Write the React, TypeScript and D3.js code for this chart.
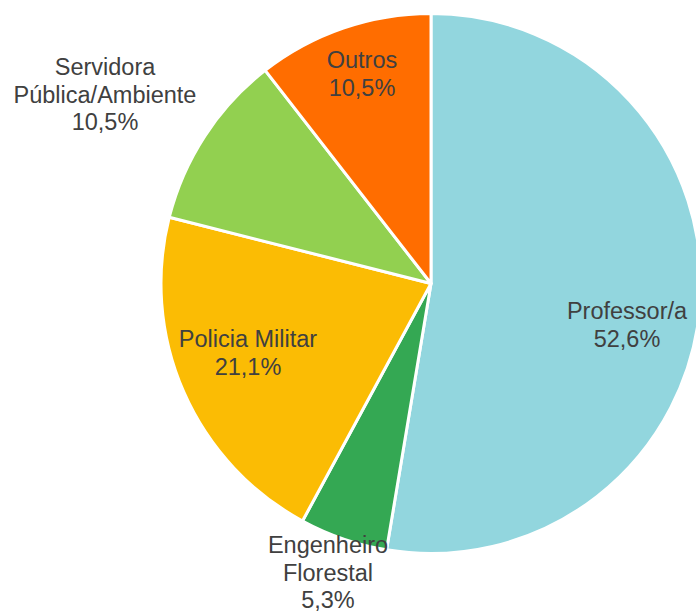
import React from "react";
import * as d3 from "d3";

const categories = ["Professor/a", "Engenheiro Florestal", "Policia Militar", "Servidora Pública/Ambiente", "Outros"];
const values = [10, 1, 4, 2, 2];
const percentLabels = ["52,6%", "5,3%", "21,1%", "10,5%", "10,5%"];
const labelLines = [["Professor/a"], ["Engenheiro", "Florestal"], ["Policia Militar"], ["Servidora", "Pública/Ambiente"], ["Outros"]];
const colors = ["#92D6DE", "#34A853", "#FBBC04", "#92D050", "#FF6D00"];

// label layout (centre x, first baseline y)
const labelPos = [
  [627, 319],
  [328, 553],
  [248, 347],
  [105, 75],
  [362, 68],
];

const W = 696, H = 612;
const cx = 431, cy = 283.5, R = 270;

export default function App() {
  const pie = d3.pie<number>().sort(null).value((d) => d)(values);
  const arc = d3.arc<d3.PieArcDatum<number>>().innerRadius(0).outerRadius(R);
  const lh = 27.5;
  return (
    <svg width={W} height={H} style={{ position: "absolute", left: 0, top: 0 }}>
      <g transform={`translate(${cx},${cy})`}>
        {pie.map((p, i) => (
          <path key={i} d={arc(p) || ""} fill={colors[i]} stroke="#fff" strokeWidth={3} strokeLinejoin="round" />
        ))}
      </g>
      {categories.map((c, i) => {
        const lines = [...labelLines[i], percentLabels[i]];
        const [x, y] = labelPos[i];
        return (
          <text key={c} x={x} y={y} textAnchor="middle" fontFamily="'Liberation Sans', Arial, sans-serif" fontSize={23.5} fill="#404040">
            {lines.map((l, j) => (
              <tspan key={j} x={x} y={y + j * lh}>{l}</tspan>
            ))}
          </text>
        );
      })}
    </svg>
  );
}
